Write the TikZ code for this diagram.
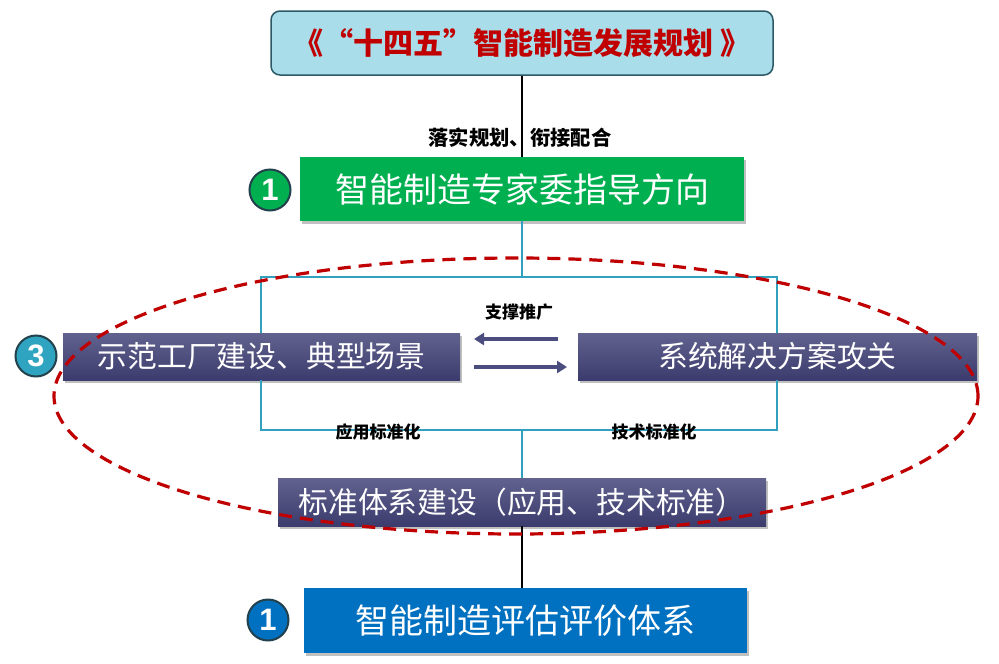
\documentclass[tikz,border=0pt]{standalone}
\usepackage{fontspec}
\newfontfamily\cjk{Noto Sans CJK SC}
\newfontfamily\digitfont{Liberation Sans}
\usetikzlibrary{shadows,arrows.meta}
\definecolor{topfill}{HTML}{A9DDE9}
\definecolor{topdraw}{HTML}{2B5A66}
\definecolor{titlered}{HTML}{C00000}
\definecolor{boxgreen}{HTML}{00B050}
\definecolor{boxblue}{HTML}{0070C0}
\definecolor{darktop}{HTML}{62628F}
\definecolor{darkbot}{HTML}{3B3C6D}
\definecolor{frameteal}{HTML}{31A0BE}
\definecolor{arrowslate}{HTML}{4B4D7E}
\definecolor{circdraw}{HTML}{23414D}
\definecolor{circteal}{HTML}{2FA4C0}
\tikzset{
  boxshadow/.style={drop shadow={shadow xshift=2pt,shadow yshift=-3pt,opacity=0.35,fill=black!70}},
  flatbox/.style={boxshadow,minimum height=64pt,inner sep=0pt,text=white,font=\cjk\fontsize{34}{37}\selectfont},
  darkbox/.style={boxshadow,top color=darktop,bottom color=darkbot,minimum height=47pt,inner sep=0pt,text=white,font=\cjk\fontsize{29.8}{32}\selectfont},
  numcirc/.style={circle,draw=circdraw,line width=2pt,minimum size=41pt,inner sep=0pt,text=white,font=\digitfont\bfseries\fontsize{31}{33}\selectfont},
  lbl/.style={font=\cjk\bfseries\fontsize{17}{19}\selectfont,text=black,inner sep=0pt},
  frame/.style={draw=frameteal,line width=1.5pt},
  blackline/.style={draw=black,line width=1.5pt},
  slatearrow/.style={draw=arrowslate,line width=3.5pt,-{Triangle[length=10pt,width=12pt]}}
}
\begin{document}
\begin{tikzpicture}[x=1pt,y=-1pt]
\useasboundingbox[fill=white] (0,0) rectangle (999,664);
% top
\node[draw=topdraw,line width=1.5pt,fill=topfill,rounded corners=9pt,minimum width=502pt,minimum height=64pt,inner sep=0pt,text=titlered,font=\cjk\bfseries\fontsize{30}{33}\selectfont] (top) at (522,43) {《“十四五”智能制造发展规划 》};
% green
\node[flatbox,fill=boxgreen,minimum width=444pt] (green) at (522,189) {智能制造专家委指导方向};
\node[numcirc,fill=boxgreen] (c1) at (270,190) {1};
% left and right
\node[darkbox,minimum width=397pt] (left) at (261.5,356.5) {示范工厂建设、典型场景};
\node[darkbox,minimum width=399pt] (right) at (777.5,356.5) {系统解决方案攻关};
\node[numcirc,fill=circteal] (c3) at (36,356) {3};
% standard box
\node[darkbox,minimum width=488pt,minimum height=48pt] (std) at (522,502) {标准体系建设（应用、技术标准）};
% blue
\node[flatbox,fill=boxblue,minimum width=443pt,minimum height=65pt] (blue) at (525.5,620.5) {智能制造评估评价体系};
\node[numcirc,fill=boxblue] (c1b) at (268,620) {1};
% coordinates of frame
\coordinate (tl) at (261,277);
\coordinate (tr) at (777,277);
\coordinate (bl) at (261,430);
\coordinate (br) at (777,430);
% black connectors
\draw[blackline] (top.south) -- (green.north);
\draw[blackline] (std.south) -- (std.south |- blue.north);
% teal frame
\draw[frame] (green.south) -- (green.south |- tl);
\draw[frame] (left.north -| tl) -- (tl) -- (tr) -- (right.north -| tr);
\draw[frame] (left.south -| bl) -- (bl) -- (br) -- (right.south -| br);
\draw[frame] (std.north) -- (std.north |- bl);
% arrows
\coordinate (ua) at (558,339);
\coordinate (ub) at (474,339);
\coordinate (la) at (474,367);
\coordinate (lb) at (567,367);
\draw[slatearrow] (ua) -- (ub);
\draw[slatearrow] (la) -- (lb);
% labels
\node[lbl,font=\cjk\bfseries\fontsize{20.3}{22}\selectfont] (l1) at (520,138) {落实规划、衔接配合};
\node[lbl] (l2) at (519,312) {支撑推广};
\node[lbl] (l3) at (378,432) {应用标准化};
\node[lbl] (l4) at (654,432) {技术标准化};
% ellipse
\draw[draw=titlered,line width=3.2pt,dash pattern=on 13pt off 8pt] (516,396) ellipse [x radius=462pt,y radius=138pt];
\end{tikzpicture}
\end{document}
